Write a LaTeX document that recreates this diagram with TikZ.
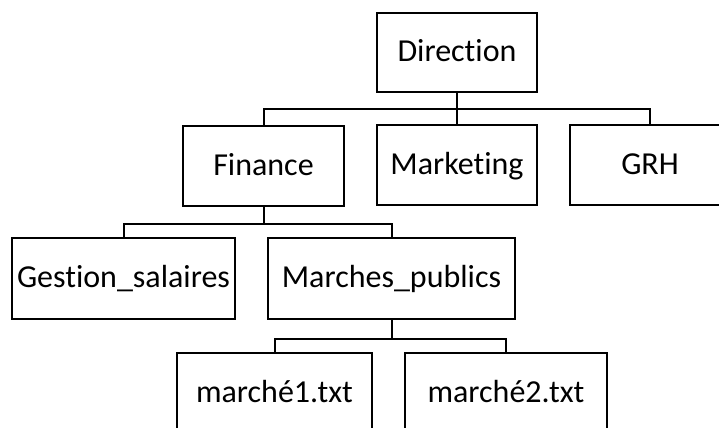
\documentclass[tikz,border=0pt]{standalone}
\usepackage{fontspec}
\setmainfont{Carlito}[Ligatures=NoCommon]
\begin{document}
\begin{tikzpicture}[x=0.75pt,y=-0.75pt,
  box/.style={draw,line width=1.5pt,inner sep=0pt,minimum height=80*0.75pt,
    text height=18pt,text depth=3.8pt,
    font=\fontsize{24}{29}\selectfont},
  link/.style={line width=1.5pt}]
\useasboundingbox (0,0) rectangle (719,428);
\clip (0,0) rectangle (719,428);
\node[box,minimum width=160*0.75pt,minimum height=79*0.75pt] (dir) at (457,52.5) {Direction};
\node[box,minimum width=161*0.75pt] (fin) at (263.5,166) {Finance};
\node[box,minimum width=160*0.75pt] (mkt) at (457,165.5) {Marketing};
\node[box,minimum width=160*0.75pt] (grh) at (650,165.5) {GRH};
\node[box,minimum width=223*0.75pt,minimum height=81*0.75pt] (ges) at (123.5,278.5) {Gestion\_salaires};
\node[box,minimum width=247*0.75pt,minimum height=81*0.75pt] (mar) at (391.5,278.5) {Marches\_publics};
\node[box,minimum width=195*0.75pt] (m1) at (274.5,393) {marché1.txt};
\node[box,minimum width=202*0.75pt] (m2) at (506,393) {marché2.txt};
\draw[link] (dir.south) -- ++(0,16) coordinate (b1);
\draw[link] (b1) -| (fin.north);
\draw[link] (b1) -- (mkt.north);
\draw[link] (b1) -| (grh.north);
\draw[link] (fin.south) -- ++(0,17) coordinate (b2);
\draw[link] (b2) -| (ges.north);
\draw[link] (b2) -| (mar.north);
\draw[link] (mar.south) -- ++(0,18.5) coordinate (b3);
\draw[link] (b3) -| (m1.north);
\draw[link] (b3) -| (m2.north);
\end{tikzpicture}
\end{document}
